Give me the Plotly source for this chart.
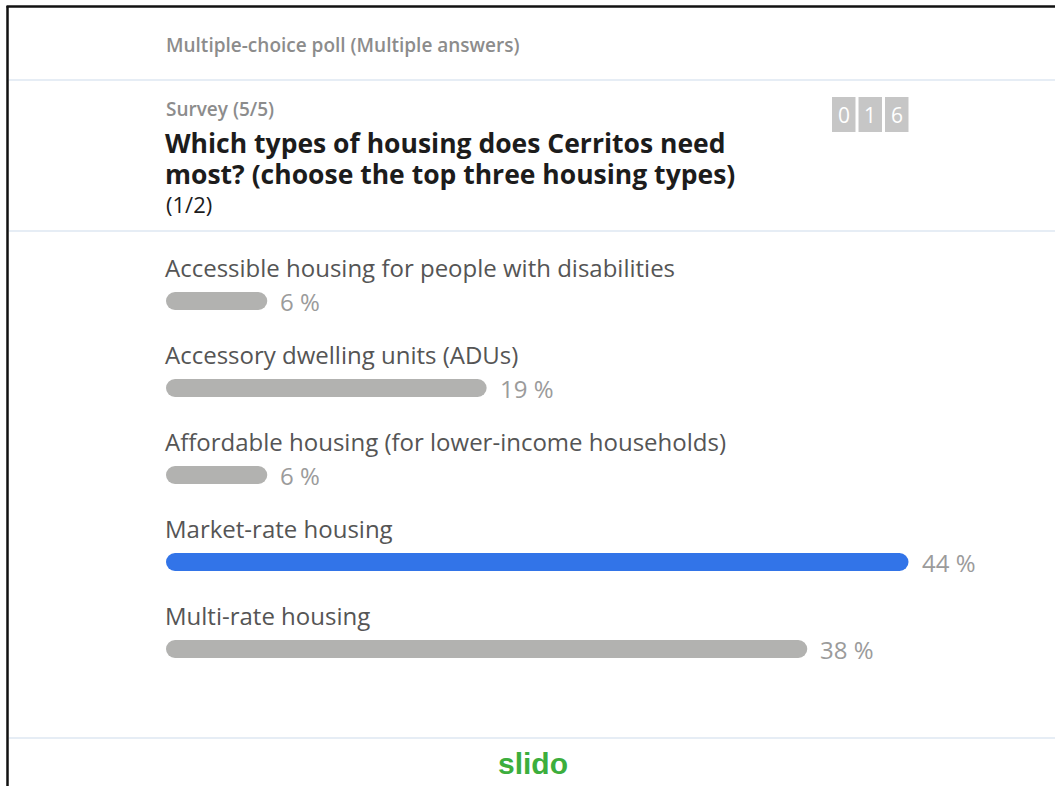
import plotly.graph_objects as go

# poll data
options = [
    "Accessible housing for people with disabilities",
    "Accessory dwelling units (ADUs)",
    "Affordable housing (for lower-income households)",
    "Market-rate housing",
    "Multi-rate housing",
]
percents = [6, 19, 6, 44, 38]
bar_colors = ["#b2b2b0", "#b2b2b0", "#b2b2b0", "#3274e8", "#b2b2b0"]
counter_digits = ["0", "1", "6"]

header = "Multiple-choice poll (Multiple answers)"
survey = "Survey (5/5)"
question = ["Which types of housing does Cerritos need",
            "most? (choose the top three housing types)"]
page = "(1/2)"

W, H = 1055, 786
FONT = "Open Sans"


def px(x):
    return x / W


def py(y):
    return 1 - y / H


# axis placement (pixels)
x0_px, px_per_pct = 166, 16.875
row0_px, row_step = 301, 87
bar_h = 18

fig = go.Figure()

fig.add_trace(go.Bar(
    y=options,
    x=percents,
    base=[0] * len(percents),
    orientation="h",
    width=bar_h / row_step,
    marker=dict(color=bar_colors, cornerradius=bar_h / 2, line=dict(width=0)),
    hoverinfo="skip",
))

annotations = []
for name, p in zip(options, percents):
    annotations.append(dict(
        x=0, y=name, xref="x", yref="y", text=name, showarrow=False,
        xanchor="left", yanchor="middle", yshift=34, xshift=-3,
        font=dict(family=FONT, size=24, color="#555555"),
    ))
    annotations.append(dict(
        x=p, y=name, xref="x", yref="y", text=f"{p} %", showarrow=False,
        xanchor="left", yanchor="middle", xshift=11,
        font=dict(family=FONT, size=24, color="#9b9b9b"),
    ))

# header texts
annotations += [
    dict(x=px(164), y=py(45), text=header, font=dict(family=FONT, size=19, color="#8c8c8c", weight=600)),
    dict(x=px(164), y=py(109), text=survey, font=dict(family=FONT, size=19, color="#8c8c8c", weight=600)),
    dict(x=px(163), y=py(143), text=question[0], font=dict(family=FONT, size=26.5, color="#1c1c1c", weight=700)),
    dict(x=px(163), y=py(174), text=question[1], font=dict(family=FONT, size=26.5, color="#1c1c1c", weight=700)),
    dict(x=px(164), y=py(204), text=page, font=dict(family=FONT, size=22, color="#1c1c1c")),
    dict(x=px(533), y=py(763), text="slido", xanchor="center",
         font=dict(family="Liberation Sans", size=30, color="#3cae3d", weight=700)),
]
for a in annotations[-6:]:
    a.setdefault("xanchor", "left")
    a.update(xref="paper", yref="paper", yanchor="middle", showarrow=False)

shapes = []
# counter boxes
for i, d in enumerate(counter_digits):
    left = 832 + i * 26.5
    shapes.append(dict(type="rect", xref="paper", yref="paper",
                       x0=px(left), x1=px(left + 23.5), y0=py(132), y1=py(97),
                       fillcolor="#c6c6c6", line=dict(width=0)))
    annotations.append(dict(x=px(left + 11.75), y=py(114.5), xref="paper", yref="paper",
                            text=d, showarrow=False, xanchor="center", yanchor="middle",
                            font=dict(family=FONT, size=21, color="#ffffff")))

# separators
for y in (80, 231, 738):
    shapes.append(dict(type="line", xref="paper", yref="paper",
                       x0=px(9), x1=1, y0=py(y), y1=py(y),
                       line=dict(color="#e6edf5", width=2)))
# frame (left and top edges)
shapes.append(dict(type="line", xref="paper", yref="paper", x0=px(7.5), x1=px(7.5),
                   y0=0, y1=py(6), line=dict(color="#111111", width=2.5)))
shapes.append(dict(type="line", xref="paper", yref="paper", x0=px(6.5), x1=1,
                   y0=py(6.5), y1=py(6.5), line=dict(color="#111111", width=2.5)))

fig.update_layout(
    width=W, height=H,
    margin=dict(l=0, r=0, t=0, b=0),
    paper_bgcolor="white", plot_bgcolor="white",
    showlegend=False,
    annotations=annotations,
    shapes=shapes,
    xaxis=dict(domain=[px(x0_px), 1], range=[0, (W - x0_px) / px_per_pct],
               visible=False, fixedrange=True),
    yaxis=dict(domain=[py(row0_px + row_step * 4.5), py(row0_px - row_step * 0.5)],
               range=[4.5, -0.5], visible=False, fixedrange=True,
               categoryorder="array", categoryarray=options),
)
fig.update_traces(cliponaxis=False)

fig.write_html("out.html", config={"displayModeBar": False},
               post_script="document.body.style.margin='0';")
